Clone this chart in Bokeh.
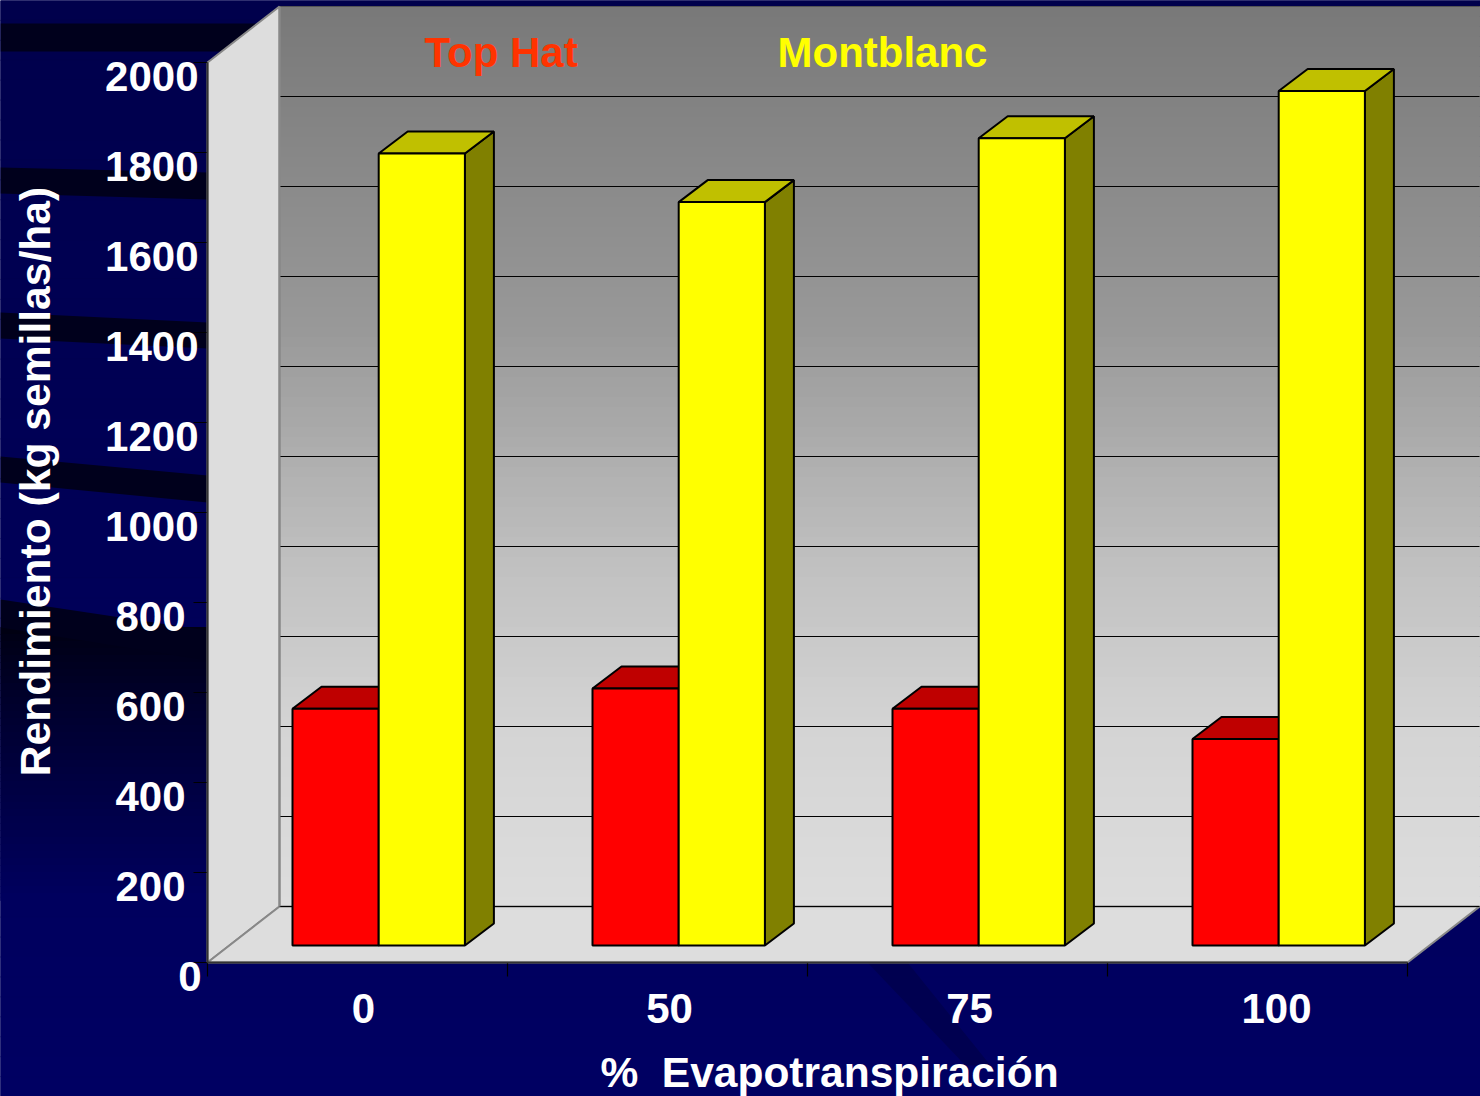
import numpy as np
from bokeh.embed import file_html
from bokeh.resources import INLINE
from bokeh.plotting import figure
from bokeh.models import LinearAxis, FixedTicker, Range1d
from bokeh.core.properties import value

# ---- chart data
categories = ["0", "50", "75", "100"]
top_hat = [526, 571, 526, 459]
montblanc = [1760, 1652, 1794, 1899]
y_ticks = [0, 200, 400, 600, 800, 1000, 1200, 1400, 1600, 1800, 2000]
series_names = ["Top Hat", "Montblanc"]
x_title = "%\u00a0\u00a0Evapotranspiración"
y_title = "Rendimiento (kg semillas/ha)"

# ---- page geometry: reference pixels <-> data units
W, H = 1480, 1096
PX_PER_VALUE = 0.45
PX_PER_GROUP = 300.0
BAR_BASE = 945.0
AXIS_LEFT = 207.0


def X(px):
    return (px - AXIS_LEFT) / PX_PER_GROUP


def Y(px):
    return (BAR_BASE - px) / PX_PER_VALUE


FRONT = Y(962)          # value offset of the wall's front edge
BACK = Y(906)           # value offset of the back wall
LABEL0 = 976.0          # where the "0" label is centred
DEPTH_X = 72 / PX_PER_GROUP
BAR_DX = 29 / PX_PER_GROUP
BAR_DY = 22 / PX_PER_VALUE

x0, x1 = X(0), X(W)
y0, y1 = Y(H), Y(0)

p = figure(width=W, height=H, x_range=Range1d(x0, x1), y_range=Range1d(y0, y1),
           x_axis_type=None, y_axis_type=None, toolbar_location=None,
           output_backend="svg", min_border=0, outline_line_color=None,
           background_fill_color="#00005a", border_fill_color="#00005a")
p.extra_y_ranges = {
    "labels": Range1d((LABEL0 - H) / PX_PER_VALUE, LABEL0 / PX_PER_VALUE),
}
FONT = "Liberation Sans"

# ---- slide background: vertical gradient with dark streaks


def lerp(c0, c1, t):
    return "#%02x%02x%02x" % tuple(int(round(a + (b - a) * t)) for a, b in zip(c0, c1))


def bg(py):
    return (0, 0, 0x4c + (0x62 - 0x4c) * py / H)


edges = np.linspace(0, H, 56)
cols = [lerp((0, 0, 0x4c), (0, 0, 0x62), t) for t in np.linspace(0, 1, 55)]
p.quad(left=x0, right=x1, bottom=[Y(e) for e in edges[1:]], top=[Y(e) for e in edges[:-1]],
       fill_color=cols, line_color=cols)

# dark glow at the lower left
glow = np.linspace(627, 900, 40)
gc = [lerp((0, 0, 0x12), bg(e), min(1.0, t ** 0.8)) for e, t in zip(glow[:-1], np.linspace(0, 1, 39))]
p.quad(left=x0, right=X(207), bottom=[Y(e) for e in glow[1:]], top=[Y(e) for e in glow[:-1]],
       fill_color=gc, line_color=gc)
streaks = [
    [(0, 23), (260, 23), (260, 51), (0, 51)],
    [(0, 167), (207, 172), (207, 199), (0, 193)],
    [(0, 312), (207, 322), (207, 348), (0, 338)],
    [(0, 456), (207, 475), (207, 502), (0, 482)],
    [(0, 599), (207, 630), (207, 660), (0, 627)],
]
p.patches([[X(a) for a, _ in s] for s in streaks], [[Y(b) for _, b in s] for s in streaks],
          fill_color="#00001c", line_color=None)
p.patch([X(a) for a in (867, 907, 990, 965)], [Y(b) for b in (962, 962, 1065, 1065)],
        fill_color="#000050", line_color=None)

# ---- 3D walls
n_groups = len(categories)
right_front = float(n_groups)
right_back = right_front + DEPTH_X
top_v = 2000
bands = np.linspace(0, top_v, 91)
band_px = 906 - (bands[:-1] + bands[1:]) / 2 * PX_PER_VALUE
wall_grey = np.interp(band_px, [6, 330, 560, 726, 906], [0x78, 0x99, 0xc0, 0xd4, 0xdd])
wc = [lerp((g, g, g), (g, g, g), 0) for g in wall_grey]
p.quad(left=DEPTH_X, right=right_back, bottom=bands[:-1] + BACK, top=bands[1:] + BACK,
       fill_color=wc, line_color=wc)
p.patch([0, DEPTH_X, DEPTH_X, 0], [FRONT, BACK, top_v + BACK, top_v + FRONT],
        fill_color="#dddddd", line_color="#888888", line_width=2)
p.patch([0, DEPTH_X, right_back, right_front], [FRONT, BACK, BACK, FRONT],
        fill_color="#dddddd", line_color="#888888", line_width=2)
grid_y = [v + BACK for v in y_ticks]
p.segment(x0=DEPTH_X, x1=right_back, y0=grid_y, y1=grid_y,
          line_color=["#000000"] * 10 + ["#555555"], line_width=1.2)
p.segment(x0=[DEPTH_X], x1=[DEPTH_X], y0=[BACK], y1=[top_v + BACK], line_color="#888888", line_width=2)

# ---- bars
colors = [("#ff0000", "#bf0000", "#7f0000"), ("#ffff00", "#c0c000", "#808000")]
bar_w = 86.2 / PX_PER_GROUP
lefts = [85.0 / PX_PER_GROUP, 171.2 / PX_PER_GROUP]
for k in range(n_groups):
    for s, vals in enumerate((top_hat, montblanc)):
        v = vals[k]
        l = k + lefts[s]
        r = l + bar_w
        front, top, side = colors[s]
        p.patch([r, r + BAR_DX, r + BAR_DX, r], [0, BAR_DY, v + BAR_DY, v],
                fill_color=side, line_color="#000000", line_width=2)
        p.patch([l, r, r + BAR_DX, l + BAR_DX], [v, v, v + BAR_DY, v + BAR_DY],
                fill_color=top, line_color="#000000", line_width=2)
        p.quad(left=[l], right=[r], bottom=[0], top=[v], fill_color=front,
               line_color="#000000", line_width=2)

# ---- tick marks and front edges of the walls
TICK_X = 14 / PX_PER_GROUP
TICK_Y = 14 / PX_PER_VALUE
front_y = [v + FRONT for v in y_ticks]
p.segment(x0=-TICK_X, x1=0, y0=front_y, y1=front_y, line_color="#000000", line_width=1.2)
p.segment(x0=list(range(n_groups + 1)), x1=list(range(n_groups + 1)),
          y0=FRONT, y1=FRONT - TICK_Y, line_color="#000000", line_width=1.2)
p.segment(x0=[0, 0], x1=[right_front, 0], y0=[FRONT, FRONT], y1=[FRONT, top_v + FRONT],
          line_color="#333333", line_width=2)

# ---- axes: real tick labels
label_style = dict(major_label_text_font=FONT, major_label_text_font_style="bold",
                   major_label_text_font_size="42px", major_label_text_color="#ffffff",
                   major_tick_line_color=None, minor_tick_line_color=None, axis_line_color=None,
                   major_tick_out=0, major_tick_in=0)

# the slide sets its numbers at three different right edges
for ticks, standoff in (([1000, 1200, 1400, 1600, 1800, 2000], 9), ([200, 400, 600, 800], 22), ([0], 6)):
    p.add_layout(LinearAxis(y_range_name="labels", fixed_location=0, ticker=FixedTicker(ticks=ticks),
                            major_label_standoff=standoff, **label_style), "left")

label_px = [X(363), X(669), X(969), X(1276)]
p.add_layout(LinearAxis(fixed_location=FRONT, ticker=FixedTicker(ticks=label_px),
                        major_label_overrides=dict(zip(label_px, categories)),
                        major_label_standoff=31, **label_style), "below")


# ---- titles and series names
def label(txt, px, py, color, angle=0.0, align="center", size="42px"):
    p.text(x=[X(px)], y=[Y(py)], text=[txt], text_color=color, text_font=value(FONT),
           text_font_style="bold", text_font_size=size, angle=angle,
           text_align=align, text_baseline="middle")


label(series_names[0], 424, 52, "#ff3300", align="left")
label(series_names[1], 777, 52, "#ffff00", align="left")
label(x_title, 829, 1072, "#ffffff", size="42.5px")
label(y_title, 34, 481, "#ffffff", angle=np.pi / 2, size="42.6px")

open("out.html", "w").write(file_html(p, INLINE))
